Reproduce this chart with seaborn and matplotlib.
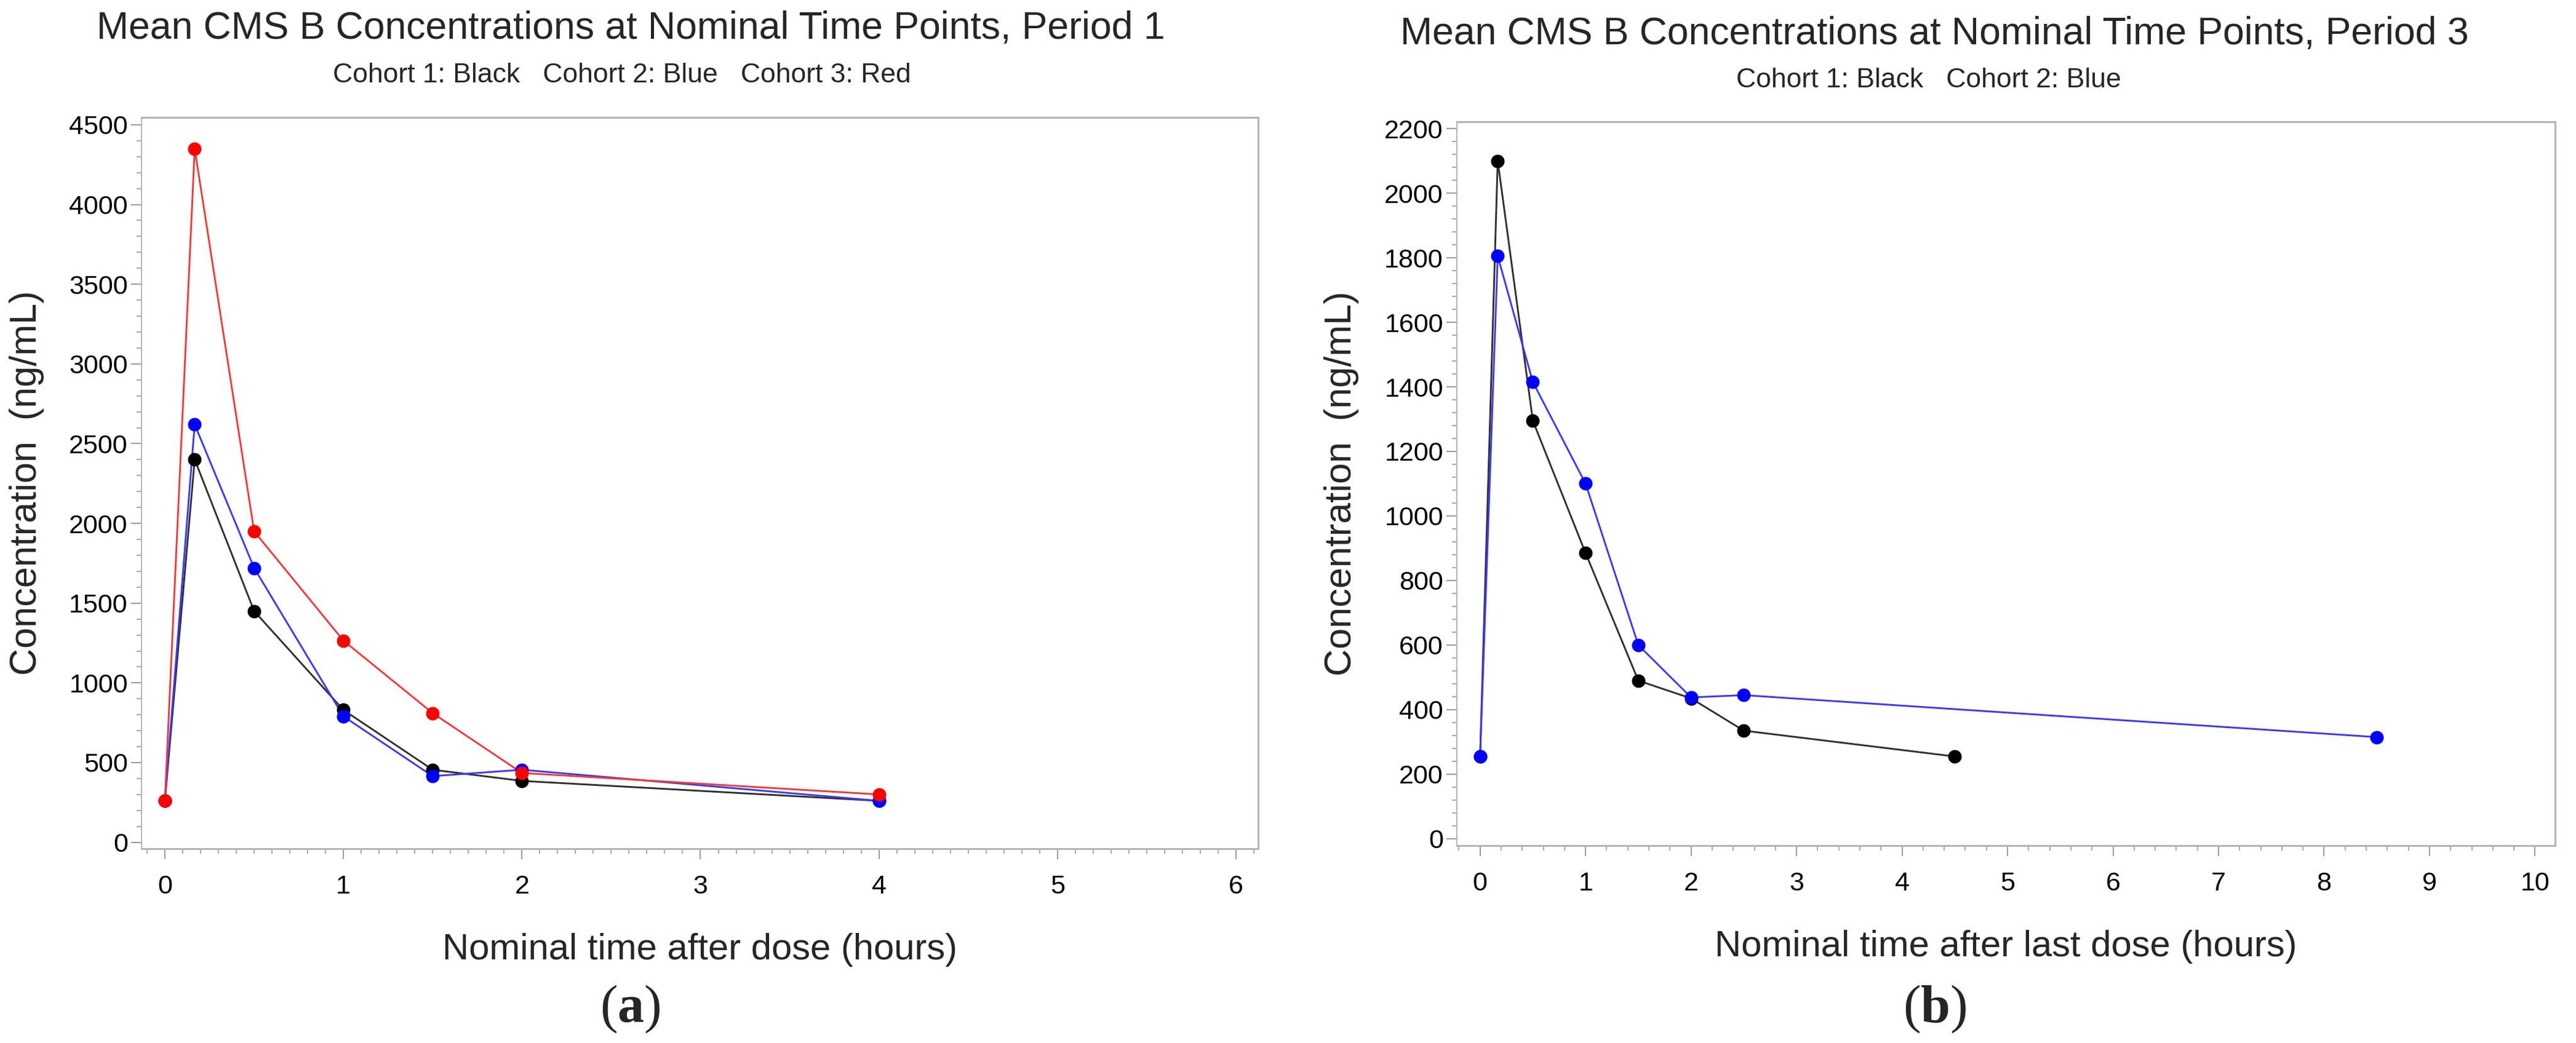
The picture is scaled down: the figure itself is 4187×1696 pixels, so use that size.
import matplotlib
matplotlib.use("Agg")
import matplotlib.pyplot as plt
import matplotlib.ticker as mticker
import seaborn as sns

sns.set_theme(style="white")
plt.rcParams["font.family"] = ["Liberation Sans", "DejaVu Sans"]
plt.rcParams["mathtext.fontset"] = "custom"
plt.rcParams["mathtext.rm"] = "Liberation Serif"
plt.rcParams["mathtext.bf"] = "Liberation Serif:bold"

# Period 1 (panel a)
TIME_P1 = [0, 0.167, 0.5, 1, 1.5, 2, 4]
P1_COHORT1 = [260, 2400, 1450, 830, 455, 385, 260]
P1_COHORT2 = [260, 2620, 1720, 790, 415, 455, 260]
P1_COHORT3 = [260, 4350, 1950, 1265, 810, 435, 300]

# Period 3 (panel b)
TIME_P3_C1 = [0, 0.167, 0.5, 1, 1.5, 2, 2.5, 4.5]
P3_COHORT1 = [255, 2100, 1295, 885, 490, 435, 335, 255]
TIME_P3_C2 = [0, 0.167, 0.5, 1, 1.5, 2, 2.5, 8.5]
P3_COHORT2 = [255, 1805, 1415, 1100, 600, 438, 445, 315]

COLORS = {"Black": "#000000", "Blue": "#0000ff", "Red": "#ff0000"}
LINE_COLORS = {"Black": "#303030", "Blue": "#3a3af0", "Red": "#f03a3a"}
FRAME = "#b4b4b4"
TICK = "#9a9a9a"


def _draw(ax, x, y, name):
    sns.lineplot(x=x, y=y, ax=ax, color=LINE_COLORS[name], linewidth=2.1,
                 sort=False, errorbar=None)
    sns.scatterplot(x=x, y=y, ax=ax, color=COLORS[name], s=250,
                    linewidth=0, zorder=3)


def _style(ax, xlim, ylim, xmaj, xmin, ymaj, ymin, xlabel):
    ax.set_xlim(*xlim)
    ax.set_ylim(*ylim)
    ax.xaxis.set_major_locator(mticker.MultipleLocator(xmaj))
    ax.xaxis.set_minor_locator(mticker.MultipleLocator(xmin))
    ax.yaxis.set_major_locator(mticker.MultipleLocator(ymaj))
    ax.yaxis.set_minor_locator(mticker.MultipleLocator(ymin))
    ax.tick_params(axis="both", which="major", direction="out", length=12,
                   width=1.4, color=TICK, labelsize=31, labelcolor="black")
    ax.tick_params(axis="both", which="minor", direction="out", length=6,
                   width=1.2, color=TICK)
    ax.tick_params(axis="x", which="major", pad=18)
    ax.tick_params(axis="y", which="major", pad=4)
    ax.tick_params(bottom=True, left=True, which="both")
    for side, spine in ax.spines.items():
        spine.set_visible(True)
        spine.set_edgecolor(FRAME)
        spine.set_linewidth(2.2 if side != "left" else 1.4)
    ax.set_xlabel(xlabel, fontsize=43, labelpad=40)
    ax.set_ylabel("Concentration  (ng/mL)", fontsize=44)
    ax.grid(False)


fig = plt.figure(figsize=(41.87, 16.96), dpi=100)
fig.patch.set_facecolor("white")

ax_a = fig.add_axes([0.05493, 0.18632, 0.43348, 0.70106])
ax_b = fig.add_axes([0.56556, 0.18927, 0.42632, 0.69399])

_draw(ax_a, TIME_P1, P1_COHORT1, "Black")
_draw(ax_a, TIME_P1, P1_COHORT2, "Blue")
_draw(ax_a, TIME_P1, P1_COHORT3, "Red")
_style(ax_a, (-0.131, 6.124), (-40, 4546), 1, 0.1, 500, 100,
       "Nominal time after dose (hours)")
ax_a.yaxis.set_label_coords(-0.087, 0.5)

_draw(ax_b, TIME_P3_C1, P3_COHORT1, "Black")
_draw(ax_b, TIME_P3_C2, P3_COHORT2, "Blue")
_style(ax_b, (-0.22, 10.19), (-21, 2221), 1, 0.2, 200, 40,
       "Nominal time after last dose (hours)")
ax_b.yaxis.set_label_coords(-0.089, 0.5)

fig.text(0.2448, 0.9723, "Mean CMS B Concentrations at Nominal Time Points, Period 1",
         fontsize=45, ha="center", va="center")
fig.text(0.2414, 0.9275, "Cohort 1: Black   Cohort 2: Blue   Cohort 3: Red",
         fontsize=32, ha="center", va="center")
fig.text(0.7511, 0.967, "Mean CMS B Concentrations at Nominal Time Points, Period 3",
         fontsize=45, ha="center", va="center")
fig.text(0.7488, 0.9233, "Cohort 1: Black   Cohort 2: Blue",
         fontsize=32, ha="center", va="center")

fig.text(0.2446, 0.0324, r"($\mathbf{a}$)", fontsize=62, ha="center", va="center",
         family="Liberation Serif")
fig.text(0.7511, 0.0324, r"($\mathbf{b}$)", fontsize=62, ha="center", va="center",
         family="Liberation Serif")

fig.savefig("out.png", dpi=100, facecolor="white")
